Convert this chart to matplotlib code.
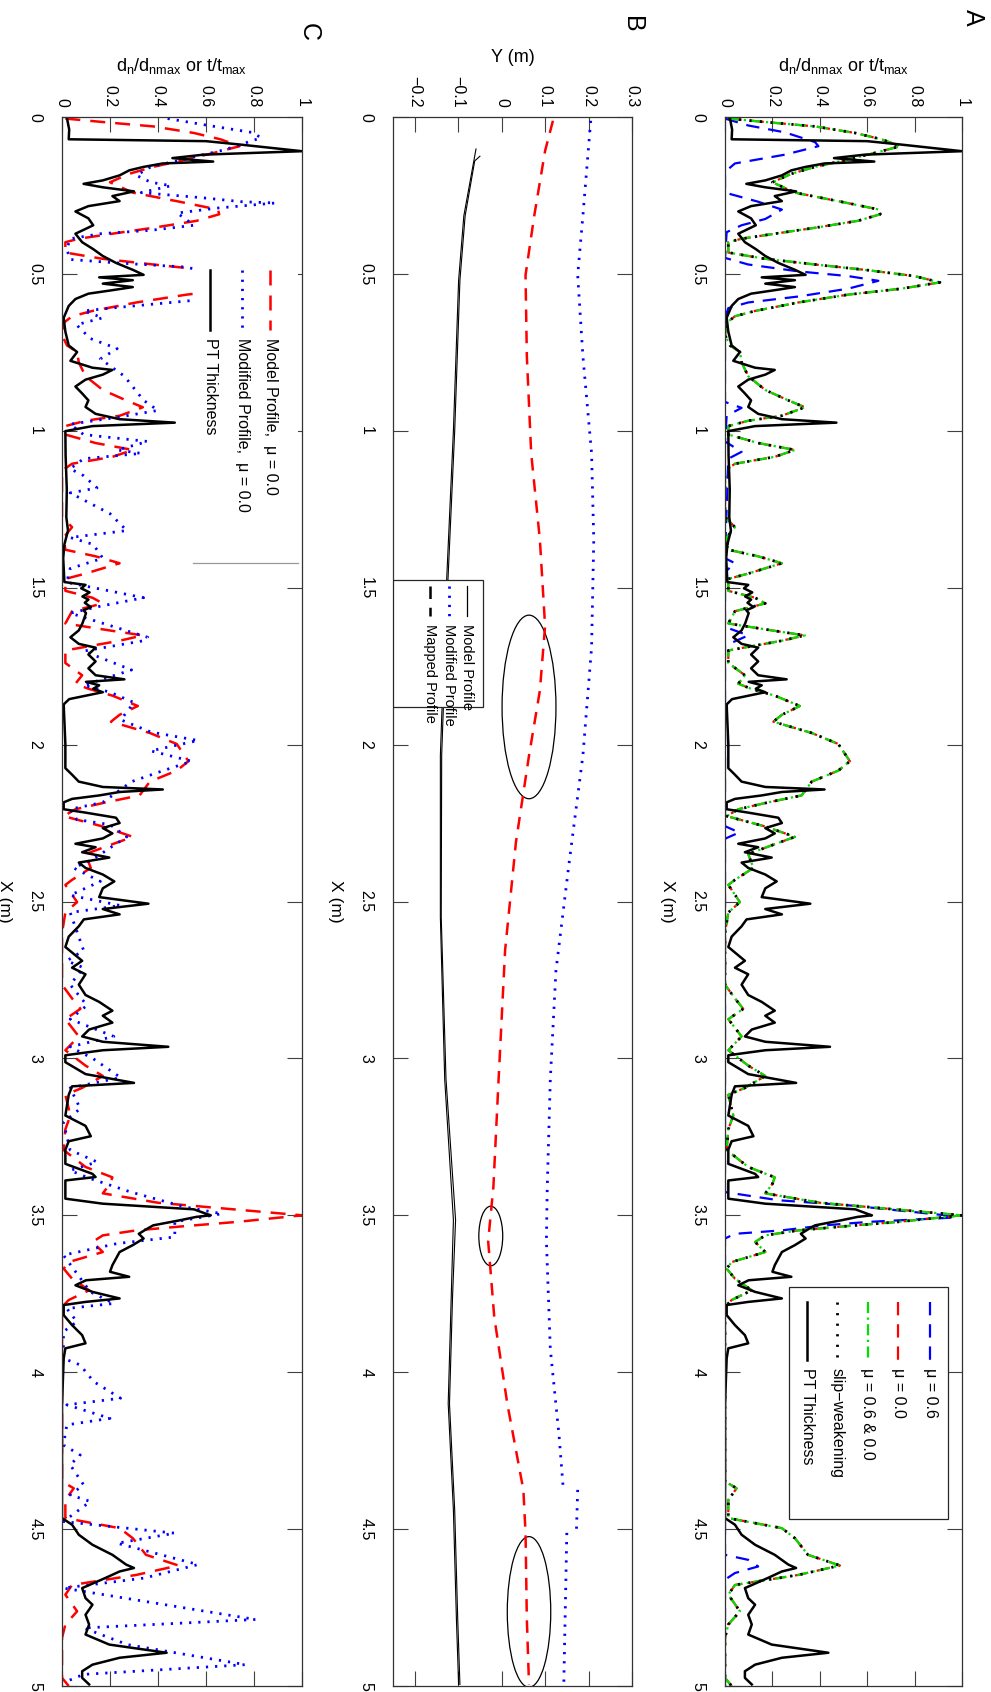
import numpy as np
import matplotlib.pyplot as plt
from matplotlib.patches import Ellipse, Rectangle
from matplotlib.lines import Line2D

plt.rcParams['font.family'] = ['Liberation Sans', 'DejaVu Sans']

# ---- PT thickness (normalised), shared by panels A and C ----
pt_x = [0.000, 0.005, 0.040, 0.071, 0.077, 0.088, 0.109, 0.120, 0.131, 0.142, 0.148, 0.159,
        0.170, 0.186, 0.202, 0.213, 0.224, 0.237, 0.252, 0.268, 0.284, 0.301, 0.323, 0.345,
        0.372, 0.399, 0.421, 0.443, 0.465, 0.487, 0.503, 0.511, 0.520, 0.531, 0.542, 0.553,
        0.563, 0.580, 0.602, 0.640, 0.684, 0.728, 0.749, 0.777, 0.799, 0.806, 0.821, 0.837,
        0.859, 0.881, 0.903, 0.924, 0.946, 0.963, 0.974, 0.985, 1.001, 1.078, 1.187, 1.275,
        1.318, 1.362, 1.406, 1.482, 1.491, 1.502, 1.515, 1.528, 1.538, 1.548, 1.562, 1.572,
        1.581, 1.614, 1.636, 1.658, 1.679,
        1.691, 1.713, 1.735, 1.757, 1.779, 1.792, 1.800, 1.811, 1.822, 1.833, 1.844, 1.855,
        1.872, 1.998, 2.075, 2.096, 2.118, 2.135, 2.143, 2.151, 2.162, 2.173, 2.184, 2.206,
        2.217, 2.233, 2.250, 2.266, 2.283, 2.299, 2.316, 2.327, 2.343, 2.360, 2.376, 2.393,
        2.414, 2.436, 2.458, 2.486, 2.507, 2.524, 2.541, 2.557, 2.579, 2.612, 2.645, 2.689,
        2.711, 2.732, 2.765, 2.798, 2.820, 2.848, 2.864, 2.886, 2.908, 2.930, 2.947, 2.963,
        2.974, 2.990, 3.012, 3.050, 3.078, 3.089, 3.116, 3.182, 3.215, 3.248, 3.264, 3.291,
        3.336, 3.368, 3.378, 3.389, 3.447, 3.463, 3.473, 3.481, 3.495, 3.500, 3.505, 3.516,
        3.532, 3.545, 3.559, 3.574, 3.595, 3.617, 3.638, 3.659, 3.680, 3.696, 3.707, 3.723,
        3.744, 3.765, 3.776, 3.786, 3.818, 3.850, 3.882, 3.908, 3.924, 3.956, 4.104, 4.317,
        4.465, 4.486, 4.518, 4.550, 4.582, 4.613, 4.624, 4.635, 4.656, 4.688, 4.720, 4.741,
        4.773, 4.804, 4.836, 4.868, 4.894, 4.910, 4.932, 4.953, 4.974, 4.995]
pt_val = [0.020, 0.021, 0.030, 0.028, 0.600, 0.745, 1.000, 0.590, 0.460, 0.630, 0.420, 0.340,
          0.280, 0.240, 0.170, 0.090, 0.170, 0.300, 0.210, 0.240, 0.110, 0.056, 0.110, 0.130,
          0.056, 0.084, 0.130, 0.170, 0.225, 0.295, 0.340, 0.155, 0.295, 0.170, 0.295, 0.200,
          0.110, 0.056, 0.028, 0.007, 0.014, 0.028, 0.063, 0.035, 0.127, 0.210, 0.170, 0.098,
          0.056, 0.084, 0.110, 0.098, 0.140, 0.240, 0.470, 0.127, 0.014, 0.015, 0.020, 0.018,
          0.025, 0.010, 0.005, 0.010, 0.098, 0.080, 0.115, 0.085, 0.110, 0.095, 0.120, 0.090,
          0.100, 0.085, 0.070, 0.035, 0.070,
          0.140, 0.110, 0.140, 0.110, 0.140, 0.260, 0.100, 0.155, 0.130, 0.170, 0.100, 0.030,
          0.007, 0.014, 0.014, 0.042, 0.070, 0.170, 0.420, 0.240, 0.155, 0.042, 0.007, 0.007,
          0.100, 0.225, 0.240, 0.170, 0.210, 0.170, 0.056, 0.140, 0.084, 0.197, 0.070, 0.098,
          0.170, 0.218, 0.170, 0.155, 0.360, 0.170, 0.240, 0.091, 0.070, 0.028, 0.014, 0.084,
          0.042, 0.098, 0.070, 0.098, 0.155, 0.210, 0.170, 0.210, 0.113, 0.084, 0.170, 0.443,
          0.170, 0.014, 0.014, 0.098, 0.300, 0.042, 0.028, 0.014, 0.098, 0.120, 0.028, 0.014,
          0.014, 0.127, 0.140, 0.014, 0.014, 0.170, 0.380, 0.550, 0.600, 0.620, 0.560, 0.490,
          0.380, 0.350, 0.320, 0.340, 0.295, 0.240, 0.225, 0.210, 0.200, 0.280, 0.100, 0.056,
          0.127, 0.240, 0.098, 0.007, 0.007, 0.042, 0.084, 0.098, 0.014, 0.007, 0.000, 0.000,
          0.000, 0.042, 0.070, 0.127, 0.210, 0.267, 0.300, 0.240, 0.180, 0.084, 0.098, 0.127,
          0.098, 0.113, 0.098, 0.197, 0.436, 0.240, 0.127, 0.084, 0.084, 0.113]

# ---- model normal displacement, mu = 0.0 (also mu = 0.6 & 0.0 and slip-weakening) ----
model_x = [0.005, 0.016, 0.030, 0.051, 0.071, 0.093, 0.115, 0.142, 0.159, 0.181, 0.208, 0.241,
           0.270, 0.295, 0.310, 0.331, 0.353, 0.373, 0.388, 0.399, 0.432, 0.452, 0.470, 0.487,
           0.507, 0.527, 0.547, 0.566, 0.591, 0.618, 0.635, 0.656, 0.695, 0.728, 0.749, 0.782,
           0.826, 0.870, 0.903, 0.925, 0.952, 0.968, 0.985, 1.012, 1.039, 1.061, 1.083, 1.105,
           1.127, 1.275, 1.307, 1.340, 1.379, 1.400, 1.422, 1.455, 1.472, 1.510, 1.532, 1.550,
           1.575, 1.614, 1.636, 1.652, 1.669, 1.700, 1.740, 1.779, 1.806, 1.822, 1.844, 1.877,
           1.905, 1.927, 1.963, 1.998, 2.053, 2.083, 2.118, 2.162, 2.184, 2.206, 2.228, 2.261,
           2.294, 2.321, 2.349, 2.393, 2.431, 2.447, 2.502, 2.535, 2.601, 2.765, 2.809, 2.842,
           2.875, 2.930, 2.974, 3.023, 3.056, 3.094, 3.116, 3.182, 3.226, 3.292, 3.346, 3.379,
           3.400, 3.430, 3.460, 3.480, 3.500, 3.521, 3.534, 3.548, 3.564, 3.585, 3.617, 3.649,
           3.670, 3.702, 3.739, 3.770, 3.792, 4.348, 4.370, 4.407, 4.465, 4.497, 4.529, 4.582,
           4.616, 4.646, 4.678, 4.709, 4.762, 4.804, 4.847, 4.974, 5.000]
model_val = [0.014, 0.170, 0.380, 0.550, 0.660, 0.740, 0.630, 0.480, 0.380, 0.280, 0.200, 0.295,
             0.490, 0.650, 0.655, 0.560, 0.380, 0.200, 0.070, 0.014, 0.014, 0.170, 0.380, 0.590,
             0.800, 0.907, 0.745, 0.520, 0.310, 0.127, 0.042, 0.007, 0.000, 0.021, 0.063, 0.070,
             0.098, 0.170, 0.267, 0.337, 0.240, 0.098, 0.014, 0.014, 0.140, 0.295, 0.210, 0.042,
             0.000, 0.000, 0.042, 0.007, 0.014, 0.140, 0.240, 0.098, 0.014, 0.014, 0.127, 0.170,
             0.042, 0.014, 0.197, 0.337, 0.240, 0.014, 0.014, 0.084, 0.056, 0.110, 0.210, 0.316,
             0.240, 0.204, 0.366, 0.478, 0.527, 0.478, 0.366, 0.323, 0.183, 0.056, 0.007, 0.170,
             0.295, 0.197, 0.098, 0.120, 0.042, 0.014, 0.063, 0.014, 0.000, 0.000, 0.042, 0.077,
             0.014, 0.070, 0.014, 0.098, 0.170, 0.084, 0.014, 0.035, 0.014, 0.007, 0.098, 0.210,
             0.200, 0.170, 0.400, 0.700, 1.000, 0.730, 0.520, 0.310, 0.170, 0.127, 0.170, 0.028,
             0.007, 0.042, 0.113, 0.028, 0.000, 0.000, 0.049, 0.014, 0.014, 0.240, 0.295, 0.350,
             0.485, 0.310, 0.042, 0.014, 0.063, 0.014, 0.000, 0.000, 0.028]

# ---- model normal displacement, mu = 0.6 ----
mu06_x = [0.005, 0.027, 0.049, 0.080, 0.093, 0.120, 0.148, 0.175, 0.241, 0.270, 0.295, 0.325,
          0.345, 0.367, 0.449, 0.470, 0.492, 0.507, 0.522, 0.547, 0.572, 0.591, 0.609, 0.640,
          0.908, 0.927, 0.952, 1.034, 1.067, 1.089, 1.406, 1.422, 1.450, 1.625, 1.652, 1.685,
          2.260, 2.280, 2.300, 3.426, 3.452, 3.468, 3.500, 3.507, 3.521, 3.532, 3.548, 3.559,
          3.574, 4.582, 4.598, 4.619, 4.640, 4.661, 5.000]
mu06_val = [0.000, 0.098, 0.253, 0.380, 0.394, 0.253, 0.042, 0.000, 0.000, 0.140, 0.240, 0.170,
            0.070, 0.007, 0.000, 0.098, 0.310, 0.520, 0.647, 0.520, 0.310, 0.098, 0.014, 0.000,
            0.000, 0.070, 0.007, 0.000, 0.070, 0.014, 0.000, 0.042, 0.000, 0.000, 0.098, 0.000,
            0.000, 0.060, 0.000, 0.000, 0.225, 0.520, 0.930, 0.970, 0.605, 0.420, 0.240, 0.042,
            0.000, 0.000, 0.098, 0.140, 0.042, 0.000, 0.000]

# ---- modified profile, mu = 0.0 (panel C) ----
mod_x = [0.005, 0.027, 0.049, 0.066, 0.104, 0.159, 0.186, 0.208, 0.219, 0.241, 0.257, 0.270,
         0.274, 0.290, 0.306, 0.345, 0.361, 0.372, 0.388, 0.421, 0.454, 0.465, 0.478, 0.527,
         0.585, 0.607, 0.618, 0.640, 0.662, 0.706, 0.738, 0.771, 0.826, 0.903, 0.935, 0.957,
         0.979, 1.012, 1.034, 1.061, 1.072, 1.089, 1.121, 1.143, 1.182, 1.198, 1.264, 1.318,
         1.340, 1.362, 1.406, 1.439, 1.483, 1.532, 1.559, 1.581, 1.658, 1.669, 1.702, 1.762,
         1.811, 1.833, 1.866, 1.921, 1.960, 1.987, 2.020, 2.053, 2.086, 2.118, 2.184, 2.206,
         2.239, 2.255, 2.294, 2.321, 2.365, 2.393, 2.436, 2.480, 2.513, 2.535, 2.656, 2.689,
         2.711, 2.765, 2.831, 2.875, 2.930, 2.963, 3.001, 3.061, 3.094, 3.160, 3.204, 3.292,
         3.330, 3.357, 3.383, 3.426, 3.473, 3.495, 3.521, 3.569, 3.590, 3.627, 3.744, 3.781,
         3.797, 3.839, 3.871, 3.956, 3.977, 4.030, 4.083, 4.104, 4.147, 4.168, 4.232, 4.264,
         4.295, 4.359, 4.391, 4.412, 4.476, 4.513, 4.545, 4.613, 4.656, 4.688, 4.788, 4.815,
         4.868, 4.932, 4.963, 4.985]
mod_val = [0.440, 0.610, 0.790, 0.830, 0.680, 0.370, 0.310, 0.370, 0.455, 0.330, 0.580, 0.750,
           0.890, 0.650, 0.480, 0.550, 0.370, 0.160, 0.034, 0.020, 0.034, 0.230, 0.510, 0.850,
           0.540, 0.230, 0.090, 0.170, 0.060, 0.118, 0.230, 0.160, 0.260, 0.340, 0.400, 0.230,
           0.034, 0.090, 0.357, 0.230, 0.330, 0.090, 0.034, 0.090, 0.146, 0.034, 0.200, 0.270,
           0.034, 0.130, 0.170, 0.034, 0.020, 0.340, 0.160, 0.034, 0.357, 0.340, 0.090, 0.290,
           0.090, 0.200, 0.300, 0.245, 0.370, 0.567, 0.370, 0.540, 0.410, 0.290, 0.170, 0.034,
           0.062, 0.200, 0.270, 0.216, 0.130, 0.048, 0.160, 0.034, 0.244, 0.034, 0.090, 0.020,
           0.090, 0.034, 0.104, 0.034, 0.216, 0.034, 0.130, 0.244, 0.034, 0.076, 0.006, 0.034,
           0.146, 0.034, 0.118, 0.287, 0.510, 0.666, 0.470, 0.470, 0.230, 0.006, 0.118, 0.216,
           0.020, 0.062, 0.006, 0.006, 0.076, 0.132, 0.244, 0.020, 0.200, 0.020, 0.006, 0.076,
           0.034, 0.090, 0.034, 0.118, 0.006, 0.470, 0.230, 0.567, 0.343, 0.006, 0.806, 0.090,
           0.272, 0.764, 0.090, 0.020]

# ---- panel B: fault profiles in plan view ----
trace_x = [0.102, 0.315, 0.520, 1.000, 1.520, 2.035, 2.550, 3.067, 3.515, 3.760, 4.100, 4.440,
           4.790, 4.995]
trace_y = [-0.059, -0.087, -0.099, -0.111, -0.128, -0.141, -0.141, -0.131, -0.111, -0.116,
           -0.123, -0.111, -0.104, -0.099]
trace2_x = [0.125, 0.140, 0.315, 0.520, 1.000, 1.520, 2.035, 2.550, 3.067, 3.515, 3.760,
            4.100, 4.440, 4.790, 4.995]
trace2_y = [-0.050, -0.062, -0.084, -0.096, -0.108, -0.125, -0.138, -0.139, -0.128, -0.106,
            -0.113, -0.120, -0.108, -0.101, -0.096]
model_prof_x = [0.012, 0.108, 0.315, 0.504, 0.762, 1.072, 1.347, 1.622, 1.828, 2.035, 2.310,
                2.655, 3.067, 3.410, 3.582, 3.824, 4.100, 4.375, 4.512, 4.787, 4.995]
model_prof_y = [0.118, 0.100, 0.075, 0.055, 0.058, 0.068, 0.088, 0.100, 0.088, 0.063, 0.033,
                0.008, -0.007, -0.019, -0.031, -0.017, 0.013, 0.050, 0.055, 0.058, 0.063]
mod_prof_x = [0.012, 0.315, 0.504, 0.762, 1.072, 1.347, 1.690, 2.035, 2.380, 2.720, 3.067,
              3.410, 3.580, 3.926, 4.200, 4.375]
mod_prof_y = [0.205, 0.187, 0.175, 0.187, 0.207, 0.212, 0.207, 0.187, 0.155, 0.125, 0.112,
              0.105, 0.103, 0.112, 0.132, 0.142]
mod_prof2_x = [4.375, 4.512]
mod_prof2_y = [0.175, 0.172]
mod_prof3_x = [4.512, 4.995]
mod_prof3_y = [0.150, 0.143]

# circled bends: centre Y, centre X, width (Y), height (X)
circles = [(0.063, 1.880, 0.124, 0.585),
           (-0.025, 3.566, 0.055, 0.190),
           (0.063, 4.764, 0.100, 0.480)]

x_ticks = np.arange(0, 5.01, 0.5)
x_tick_labels = ['0', '0.5', '1', '1.5', '2', '2.5', '3', '3.5', '4', '4.5', '5']
norm_ticks = [0, 0.2, 0.4, 0.6, 0.8, 1]
norm_labels = ['0', '0.2', '0.4', '0.6', '0.8', '1']
y_ticks = [-0.2, -0.1, 0, 0.1, 0.2, 0.3]
y_labels = ['\u22120.2', '\u22120.1', '0', '0.1', '0.2', '0.3']

norm_label = r'd$_\mathregular{n}$/d$_\mathregular{nmax}$ or t/t$_\mathregular{max}$'

W, H = 991, 1692
fig = plt.figure(figsize=(W / 100, H / 100), dpi=100)
bot, hgt = 6 / H, 1569 / H
ax_c = fig.add_axes([62 / W, bot, 240 / W, hgt])
ax_b = fig.add_axes([393 / W, bot, 239 / W, hgt])
ax_a = fig.add_axes([725 / W, bot, 237 / W, hgt])


def style_axes(ax, xlim, ticks, labels, top_label):
    ax.set_xlim(xlim)
    ax.set_ylim(5, 0)
    ax.set_xticks(ticks)
    ax.set_xticklabels(labels)
    ax.set_yticks(x_ticks)
    ax.set_yticklabels(x_tick_labels)
    ax.tick_params(direction='in', length=11, width=0.8, color='0.25',
                   top=True, bottom=True, left=True, right=True,
                   labeltop=True, labelbottom=False, labelsize=11.5)
    ax.tick_params(axis='x', pad=7)
    ax.tick_params(axis='y', pad=14)
    for lab in ax.get_xticklabels():
        lab.set_rotation(-90)
    for lab in ax.get_yticklabels():
        lab.set_rotation(-90)
        lab.set_va('center')
    for sp in ax.spines.values():
        sp.set_color('0.2')
        sp.set_linewidth(0.9)
    ax.xaxis.set_label_position('top')
    ax.set_xlabel(top_label, fontsize=13, labelpad=10)
    ax.set_ylabel('X (m)', rotation=-90, fontsize=12.5, labelpad=22)


def legend_entry(ax, xf, y0, y1, text, size=11.5, **line_kw):
    ax.add_line(Line2D([xf, xf], [y0, y1], transform=ax.transAxes, zorder=6, **line_kw))
    ax.text(xf, y1 - 0.005, text, transform=ax.transAxes, rotation=-90,
            ha='center', va='top', fontsize=size, zorder=7)


# ---- panel A ----
ax_a.plot(mu06_val, mu06_x, color='blue', lw=1.6, ls=(0, (6, 4)))
ax_a.plot(model_val, model_x, color='red', lw=1.6, ls=(0, (6, 4)))
ax_a.plot(model_val, model_x, color='#00e000', lw=1.6, ls=(0, (5, 2, 1, 2)))
ax_a.plot(model_val, model_x, color='black', lw=2.0, ls=(0, (0.8, 3)))
ax_a.plot(pt_val, pt_x, color='black', lw=1.8)
style_axes(ax_a, (0, 1), norm_ticks, norm_labels, norm_label)

ax_a.add_patch(Rectangle((0.27, 0.1064), 0.671, 0.1479, transform=ax_a.transAxes,
                         facecolor='white', edgecolor='0.15', lw=0.9, zorder=5))
legend_entry(ax_a, 0.865, 0.2447, 0.2078, '\u03bc = 0.6', color='blue', lw=1.6,
             ls=(0, (6, 4)))
legend_entry(ax_a, 0.730, 0.2447, 0.2078, '\u03bc = 0.0', color='red', lw=1.6,
             ls=(0, (6, 4)))
legend_entry(ax_a, 0.603, 0.2447, 0.2078, '\u03bc = 0.6 & 0.0', color='#00e000', lw=1.6,
             ls=(0, (5, 2, 1, 2)))
legend_entry(ax_a, 0.473, 0.2447, 0.2078, 'slip\u2212weakening', color='black', lw=2.0,
             ls=(0, (0.8, 3)))
legend_entry(ax_a, 0.346, 0.2447, 0.2078, 'PT Thickness', color='black', lw=1.8)

# ---- panel B ----
ax_b.plot(trace_y, trace_x, color='black', lw=0.8)
ax_b.plot(trace2_y, trace2_x, color='black', lw=0.8)
ax_b.plot(model_prof_y, model_prof_x, color='red', lw=1.8, ls=(0, (5, 3.5)))
for xs, ys in [(mod_prof_x, mod_prof_y), (mod_prof2_x, mod_prof2_y), (mod_prof3_x, mod_prof3_y)]:
    ax_b.plot(ys, xs, color='blue', lw=2.0, ls=(0, (0.8, 2.5)))
for cy, cx, w, h in circles:
    ax_b.add_patch(Ellipse((cy, cx), w, h, fill=False, edgecolor='black', lw=0.9))
style_axes(ax_b, (-0.25, 0.3), y_ticks, y_labels, 'Y (m)')

ax_b.add_patch(Rectangle((0.0, 0.624), 0.377, 0.081, transform=ax_b.transAxes,
                         facecolor='white', edgecolor='0.15', lw=0.9, zorder=5))
legend_entry(ax_b, 0.31, 0.701, 0.682, 'Model Profile', size=10.5, color='black', lw=0.9)
legend_entry(ax_b, 0.234, 0.701, 0.682, 'Modified Profile', size=10.5, color='blue', lw=2.0,
             ls=(0, (0.8, 2.5)))
legend_entry(ax_b, 0.155, 0.701, 0.682, 'Mapped Profile', size=10.5, color='black', lw=1.8,
             ls=(0, (5, 3.5)))

# ---- panel C ----
ax_c.plot(model_val, model_x, color='red', lw=1.8, ls=(0, (6, 4)))
ax_c.plot(mod_val, mod_x, color='blue', lw=2.0, ls=(0, (0.8, 2.5)))
ax_c.plot(pt_val, pt_x, color='black', lw=1.8)
style_axes(ax_c, (0, 1), norm_ticks, norm_labels, norm_label)

ax_c.add_patch(Rectangle((0.546, 0.7157), 0.437, 0.1887, transform=ax_c.transAxes,
                         facecolor='white', edgecolor='none', zorder=5))
ax_c.add_line(Line2D([0.546, 0.983], [0.7157, 0.7157], transform=ax_c.transAxes,
                     color='0.6', lw=0.9, zorder=6))
legend_entry(ax_c, 0.867, 0.9025, 0.864, 'Model Profile,  \u03bc = 0.0', color='red', lw=1.8,
             ls=(0, (6, 4)))
legend_entry(ax_c, 0.750, 0.9025, 0.864, 'Modified Profile,  \u03bc = 0.0', color='blue',
             lw=2.0, ls=(0, (0.8, 2.5)))
legend_entry(ax_c, 0.617, 0.9025, 0.864, 'PT Thickness', color='black', lw=1.8)

# panel letters
for letter, xp, yp in [('A', 973, 17), ('B', 632, 24), ('C', 309, 32)]:
    fig.text(xp / W, 1 - yp / H, letter, rotation=-90, fontsize=18,
             ha='center', va='center')

fig.savefig('out.png', dpi=100)
